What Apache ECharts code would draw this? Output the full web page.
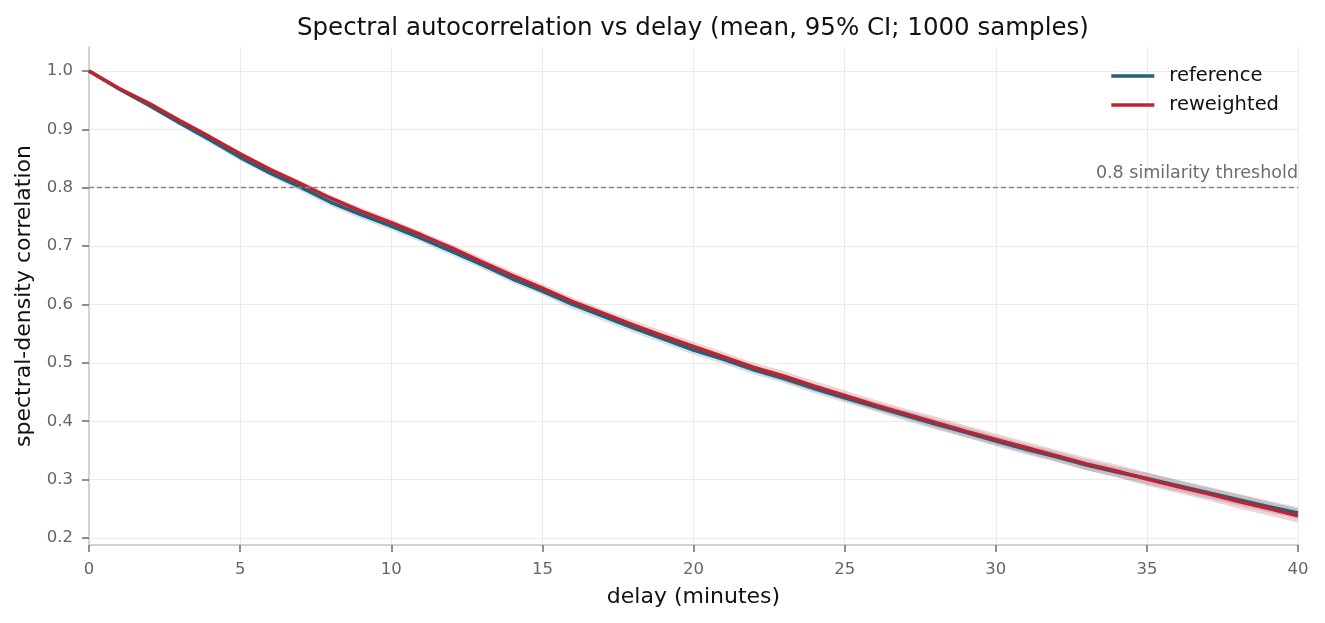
<!DOCTYPE html>
<html>
<head>
<meta charset="utf-8">
<title>Spectral autocorrelation vs delay</title>
<script src="https://cdn.jsdelivr.net/npm/echarts@6/dist/echarts.min.js"></script>
<style>
  html, body { margin: 0; padding: 0; background: #fff; }
  #chart { width: 1325px; height: 623px; }
</style>
</head>
<body>
<div id="chart"></div>
<script>
// delay in minutes
var delays = [0,1,2,3,4,5,6,7,8,9,10,11,12,13,14,15,16,17,18,19,20,
              21,22,23,24,25,26,27,28,29,30,31,32,33,34,35,36,37,38,39,40];

// mean correlation
var refMean = [1.000,0.969,0.941,0.911,0.882,0.852,0.825,0.801,0.775,0.754,0.734,
               0.713,0.691,0.668,0.644,0.623,0.600,0.580,0.560,0.541,0.522,
               0.506,0.488,0.473,0.456,0.440,0.425,0.410,0.395,0.381,0.366,
               0.352,0.339,0.325,0.313,0.302,0.290,0.278,0.266,0.254,0.243];
var rewMean = [1.000,0.970,0.944,0.915,0.887,0.858,0.831,0.807,0.782,0.760,0.740,
               0.719,0.697,0.673,0.650,0.628,0.605,0.585,0.565,0.546,0.528,
               0.510,0.492,0.477,0.460,0.444,0.428,0.413,0.398,0.383,0.369,
               0.355,0.341,0.327,0.315,0.301,0.288,0.276,0.263,0.251,0.238];

// 95% CI half widths
var refCI = [0.000,0.004,0.005,0.005,0.006,0.006,0.006,0.007,0.007,0.007,0.007,
             0.007,0.007,0.007,0.007,0.007,0.008,0.008,0.008,0.008,0.008,
             0.008,0.008,0.008,0.008,0.008,0.008,0.009,0.009,0.009,0.009,
             0.009,0.009,0.009,0.009,0.010,0.010,0.010,0.010,0.010,0.010];
var rewCI = [0.000,0.003,0.003,0.004,0.004,0.004,0.005,0.005,0.005,0.006,0.006,
             0.006,0.006,0.007,0.007,0.007,0.007,0.007,0.008,0.008,0.008,
             0.008,0.008,0.009,0.009,0.009,0.009,0.009,0.010,0.010,0.010,
             0.010,0.010,0.011,0.011,0.011,0.011,0.011,0.012,0.012,0.012];

var yTicks = [0.2,0.3,0.4,0.5,0.6,0.7,0.8,0.9,1.0];
var threshold = 0.8;

var refColor = '#23607a';
var rewColor = '#bb2430';
var font = 'DejaVu Sans';

function pairs(vals) {
    return delays.map(function (d, i) { return [d, vals[i]]; });
}

// CI band drawn as one polygon, placed with the axes' own scales
function band(mean, ci, color) {
    return {
        type: 'custom',
        silent: true,
        z: 1,
        clip: true,
        data: [0],
        renderItem: function (params, api) {
            var pts = [];
            for (var i = 0; i < delays.length; i++) {
                pts.push(api.coord([delays[i], mean[i] + ci[i]]));
            }
            for (var j = delays.length - 1; j >= 0; j--) {
                pts.push(api.coord([delays[j], mean[j] - ci[j]]));
            }
            return {
                type: 'polygon',
                shape: { points: pts },
                style: { fill: color, stroke: null }
            };
        }
    };
}

var chart = echarts.init(document.getElementById('chart'));

var option = {
    animation: false,
    backgroundColor: '#fff',
    textStyle: { fontFamily: font },
    title: {
        text: 'Spectral autocorrelation vs delay (mean, 95% CI; 1000 samples)',
        left: 292, top: 11,
        textStyle: { fontFamily: font, fontSize: 24.5, fontWeight: 'normal', color: '#111' }
    },
    legend: {
        data: ['reference', 'reweighted'],
        orient: 'vertical',
        right: 41, top: 61,
        icon: 'rect', itemWidth: 43, itemHeight: 3.5, itemGap: 9,
        textStyle: { fontFamily: font, fontSize: 19.5, color: '#111', padding: [0, 0, 0, 10] }
    },
    grid: { left: 89, right: 27, top: 47, bottom: 78 },
    xAxis: {
        type: 'value', min: 0, max: 40, interval: 5,
        name: 'delay (minutes)', nameLocation: 'middle', nameGap: 41,
        nameTextStyle: { fontFamily: font, fontSize: 22, color: '#111' },
        axisLine: { show: true, onZero: false, lineStyle: { color: '#d4d3ca', width: 2 } },
        axisTick: { show: true, length: 7, lineStyle: { color: '#6b6b66', width: 1.5 } },
        axisLabel: { color: '#666661', fontSize: 16.5, margin: 16 },
        splitLine: { show: true, lineStyle: { color: '#ecebe6', width: 1 } }
    },
    yAxis: {
        type: 'value', min: 0.188, max: 1.041,
        name: 'spectral-density correlation', nameLocation: 'middle', nameGap: 54,
        nameTextStyle: { fontFamily: font, fontSize: 22, color: '#111' },
        axisLine: { show: true, onZero: false, lineStyle: { color: '#d4d3ca', width: 2 } },
        axisTick: { show: true, length: 7, customValues: yTicks, lineStyle: { color: '#6b6b66', width: 1.5 } },
        axisLabel: {
            color: '#666661', fontSize: 16.5, margin: 16, customValues: yTicks,
            formatter: function (v) { return v.toFixed(1); }
        },
        splitLine: { show: true, lineStyle: { color: '#ecebe6', width: 1 } }
    },
    series: [
        band(refMean, refCI, 'rgba(35,96,122,0.18)'),
        band(rewMean, rewCI, 'rgba(187,36,48,0.2)'),
        {
            name: 'reference', type: 'line', data: pairs(refMean),
            symbol: 'none', z: 3,
            lineStyle: { color: refColor, width: 3.5 },
            itemStyle: { color: refColor },
            markLine: {
                silent: true, symbol: 'none',
                lineStyle: { color: '#888', type: [5, 3], width: 1.4 },
                label: {
                    position: 'insideEndTop', formatter: '0.8 similarity threshold',
                    color: '#6e6e66', fontSize: 17.5, fontFamily: font, distance: [0, 5]
                },
                data: [{ yAxis: threshold }]
            }
        },
        {
            name: 'reweighted', type: 'line', data: pairs(rewMean),
            symbol: 'none', z: 4,
            lineStyle: { color: rewColor, width: 3.5 },
            itemStyle: { color: rewColor }
        }
    ]
};

chart.setOption(option);
</script>
</body>
</html>
